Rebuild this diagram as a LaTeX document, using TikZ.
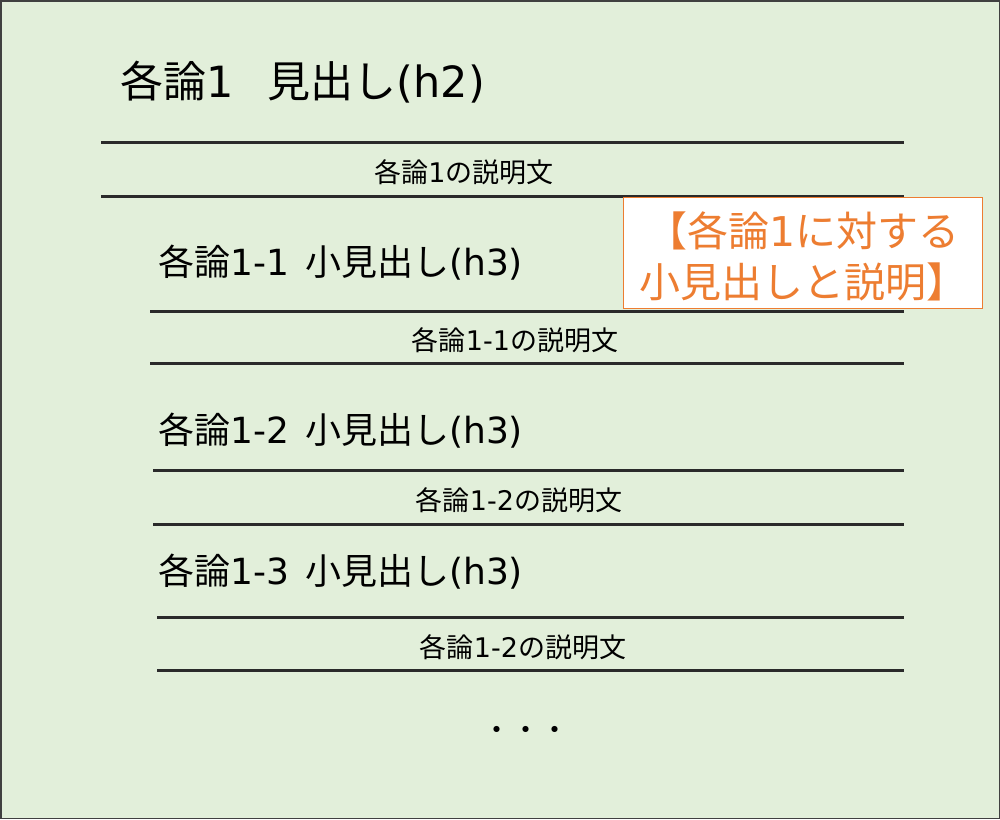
\documentclass[tikz,border=0pt]{standalone}
\usepackage{fontspec}
\setmainfont{Noto Sans CJK JP}
\newfontfamily\jp{Noto Sans CJK JP}
\newfontfamily\lat{DejaVu Sans}
\definecolor{bggreen}{HTML}{E2EFDA}
\definecolor{rulecol}{HTML}{2A2A2A}
\definecolor{framecol}{HTML}{404040}
\definecolor{orangetxt}{HTML}{ED7D31}
\newcommand{\latx}[1]{{\lat #1}}
\tikzset{
  rulel/.style={draw=rulecol, line width=3pt},
  htwo/.style={anchor=west, inner sep=0pt, font=\jp\fontsize{43}{52}\selectfont},
  hthree/.style={anchor=west, inner sep=0pt, font=\jp\fontsize{36}{43}\selectfont},
  desc/.style={anchor=center, inner sep=0pt, font=\jp\fontsize{27}{32}\selectfont},
  notebox/.style={draw=orangetxt, line width=1pt, fill=white, inner sep=0pt, minimum width=359pt, minimum height=111pt, anchor=north west},
  notetext/.style={text=orangetxt, align=center, inner sep=0pt, font=\jp\fontsize{41}{51}\selectfont}
}
\begin{document}
\begin{tikzpicture}[x=1pt,y=-1pt]
\path[fill=bggreen, draw=framecol, line width=1.5pt] (0.75,0.75) rectangle (999.25,818.25);
\useasboundingbox (0,0) rectangle (1000,819);
% title
\node[htwo] (title) at (120,82) {各論\latx{1}\hspace{0.8em}見出し\latx{(h2)}};
\draw[rulel] (101,142) -- (904,142);
\node[desc] (d1) at (464,172) {各論\latx{1}の説明文};
\draw[rulel] (101,196) -- (904,196);
% h3 1
\node[hthree] (s1) at (158,263) {各論\latx{1-1}\hspace{0.45em}小見出し\latx{(h3)}};
\draw[rulel] (150,311) -- (904,311);
\node[desc] (d11) at (515,340) {各論\latx{1-1}の説明文};
\draw[rulel] (150,363) -- (904,363);
% h3 2
\node[hthree] (s2) at (158,431) {各論\latx{1-2}\hspace{0.45em}小見出し\latx{(h3)}};
\draw[rulel] (153,470) -- (904,470);
\node[desc] (d12) at (519,500) {各論\latx{1-2}の説明文};
\draw[rulel] (153,524) -- (904,524);
% h3 3
\node[hthree] (s3) at (158,572) {各論\latx{1-3}\hspace{0.45em}小見出し\latx{(h3)}};
\draw[rulel] (157,617) -- (904,617);
\node[desc] (d13) at (523,647) {各論\latx{1-2}の説明文};
\draw[rulel] (157,670) -- (904,670);
% dots
\node[inner sep=0pt, font=\jp\fontsize{29}{35}\selectfont] (dots) at (526,733) {・・・};
% note box
\node[notebox] (box) at (623,197) {};
\node[notetext] (note) at ([yshift=-3pt]box.center) {【各論\latx{1}に対する\\小見出しと説明】};
\end{tikzpicture}
\end{document}
